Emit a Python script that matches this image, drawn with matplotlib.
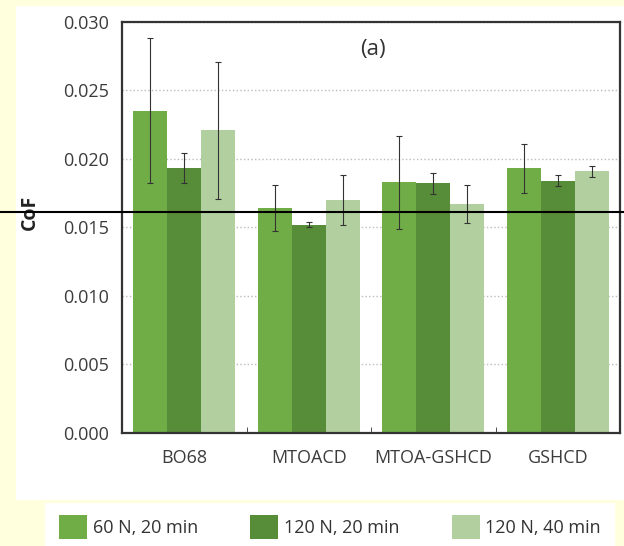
import matplotlib.pyplot as plt
from matplotlib.lines import Line2D
from matplotlib.patches import Rectangle, Patch
import numpy as np

plt.rcParams['font.family'] = ['Open Sans', 'DejaVu Sans']

categories = ['BO68', 'MTOACD', 'MTOA-GSHCD', 'GSHCD']
series_names = ['60 N, 20 min', '120 N, 20 min', '120 N, 40 min']
cof_60_20 = [0.0235, 0.0164, 0.0183, 0.0193]
cof_120_20 = [0.0193, 0.0152, 0.0182, 0.0184]
cof_120_40 = [0.0221, 0.0170, 0.0167, 0.0191]
err_60_20 = [0.0053, 0.0017, 0.0034, 0.0018]
err_120_20 = [0.0011, 0.0002, 0.0008, 0.0004]
err_120_40 = [0.0050, 0.0018, 0.0014, 0.0004]

colors = ['#70ad47', '#578c38', '#b2cf9f']

fig = plt.figure(figsize=(6.24, 5.46), dpi=100)
fig.patch.set_facecolor('#fffedd')

# white panels behind plot and legend
fig.add_artist(Rectangle((16/624, 1-500/546), 1-16/624, (500-6)/546,
                         transform=fig.transFigure, facecolor='white', edgecolor='none', zorder=0))
fig.add_artist(Rectangle((45/624, 0), (615-45)/624, (546-503)/546,
                         transform=fig.transFigure, facecolor='white', edgecolor='none', zorder=0))

ax = fig.add_axes([122/624, 113.5/546, 498/624, 410.5/546])
x = np.arange(len(categories))
w = 0.273
data = [cof_60_20, cof_120_20, cof_120_40]
errs = [err_60_20, err_120_20, err_120_40]
for i in range(3):
    ax.bar(x + (i - 1) * w, data[i], w, color=colors[i], label=series_names[i], zorder=2,
           yerr=errs[i], error_kw=dict(ecolor='#333333', elinewidth=0.8, capsize=2.2, capthick=0.8))

ax.set_xlim(-0.5, 3.5)
ax.set_ylim(0, 0.030)
ticks = np.arange(0, 0.0301, 0.005)
ax.set_yticks(ticks)
ax.set_yticklabels(['%.3f' % v for v in ticks])
ax.set_xticks(x)
ax.set_xticklabels(categories)
ax.set_xticks([0.5, 1.5, 2.5], minor=True)
ax.tick_params(axis='y', length=0, labelsize=13, labelcolor='#3c3c3c', pad=9)
ax.tick_params(axis='x', which='major', length=0, labelsize=13, labelcolor='#3c3c3c', pad=12)
ax.tick_params(axis='x', which='minor', direction='in', length=4, color='#333333')
ax.yaxis.grid(True, linestyle=':', color='#bbbbbb', linewidth=1.0, zorder=0)
ax.set_axisbelow(True)
for s in ax.spines.values():
    s.set_color('#333333')
    s.set_linewidth(1.6)

ax.set_ylabel('CoF', fontsize=14, fontweight='bold', color='#222222')
ax.yaxis.set_label_coords(-0.165, 0.537)
ax.text(0.504, 0.934, '(a)', transform=ax.transAxes, fontsize=16, color='#333333', ha='center', va='center')

handles = [Patch(facecolor=c, edgecolor='none') for c in colors]
fig.legend(handles, series_names, loc='center left', bbox_to_anchor=(43/624, 1-527/546), ncol=3,
           frameon=False, fontsize=13, handlelength=1.55, handleheight=1.6,
           columnspacing=2.9, handletextpad=0.3, labelcolor='#333333')

# horizontal reference line across the picture
fig.add_artist(Line2D([0, 1], [1-212/546, 1-212/546], transform=fig.transFigure,
                      color='black', linewidth=1.5, zorder=10))

fig.savefig('out.png', dpi=100, facecolor=fig.get_facecolor())
